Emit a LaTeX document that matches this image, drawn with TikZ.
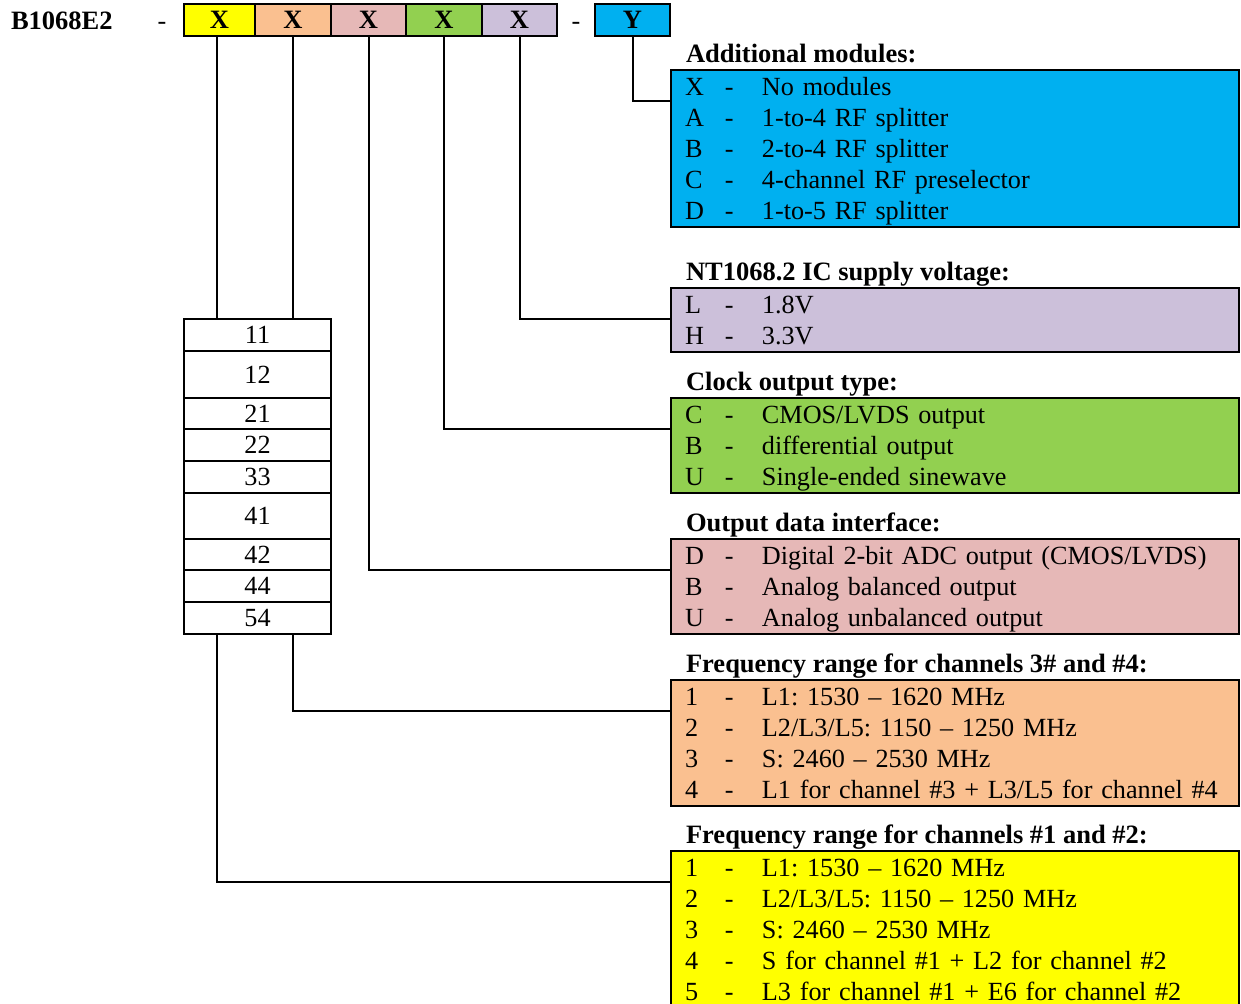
\documentclass[tikz,border=0pt]{standalone}
\usepackage{fontspec}
\setmainfont{Liberation Serif}
\usepackage{array}
\usepackage{tikz}
\usetikzlibrary{positioning}

\definecolor{chanA}{HTML}{FFFF00}
\definecolor{chanB}{HTML}{FAC090}
\definecolor{iface}{HTML}{E6B8B7}
\definecolor{clock}{HTML}{92D050}
\definecolor{supply}{HTML}{CCC0DA}
\definecolor{modules}{HTML}{00B0F0}

\newcommand\diagfont{\fontsize{13.1}{15.5}\selectfont\frenchspacing}
\newcommand\headfont{\fontsize{13.25}{15.5}\selectfont\bfseries}
\newcolumntype{K}{>{\rule[-3.1pt]{0pt}{15.5pt}}p{20pt}}
\newcommand\optlist[1]{\begin{tabular}{@{}K@{}p{18.5pt}@{}l@{}}#1\end{tabular}}
\renewcommand\arraystretch{0}

\begin{document}
\begin{tikzpicture}[x=0.5pt,y=-0.5pt,line width=1pt,font=\diagfont,
    code/.style={draw,minimum height=16pt,inner sep=0pt,outer sep=0pt,font=\headfont},
    optbox/.style={draw,anchor=north west,text width=270pt,align=left,inner xsep=7pt,inner ysep=0.5pt},
    title/.style={anchor=base west,inner sep=0pt,font=\headfont},
    cell/.style={draw,fill=white,minimum width=73.5pt,inner sep=0pt,outer sep=0pt}]
    \useasboundingbox (0,0) rectangle (1241,1003);

    % Part number code
    \node[anchor=base west,inner sep=0pt,font=\headfont] (pn) at (10,29) {B1068E2};
    \node[anchor=base,inner sep=0pt] (d1) at (162,29) {-};
    \node[code,fill=chanA,minimum width=35.5pt,anchor=west] (c1) at (184,20) {X};
    \node[code,fill=chanB,minimum width=38pt,right=0pt of c1] (c2) {X};
    \node[code,fill=iface,minimum width=37.5pt,right=0pt of c2] (c3) {X};
    \node[code,fill=clock,minimum width=38pt,right=0pt of c3] (c4) {X};
    \node[code,fill=supply,minimum width=37.5pt,right=0pt of c4] (c5) {X};
    \node[anchor=base,inner sep=0pt] (d2) at (576,29) {-};
    \node[code,fill=modules,minimum width=37.5pt,anchor=west] (cY) at (595,20) {Y};

    % Option boxes
    \node[optbox,fill=modules] (boxY) at (670,69) {\optlist{
        X & - & No modules\\
        A & - & 1-to-4 RF splitter\\
        B & - & 2-to-4 RF splitter\\
        C & - & 4-channel RF preselector\\
        D & - & 1-to-5 RF splitter}};
    \node[optbox,fill=supply] (boxV) at (670,287) {\optlist{
        L & - & 1.8V\\
        H & - & 3.3V}};
    \node[optbox,fill=clock] (boxC) at (670,397) {\optlist{
        C & - & CMOS/LVDS output\\
        B & - & differential output\\
        U & - & Single-ended sinewave}};
    \node[optbox,fill=iface] (boxI) at (670,538) {\optlist{
        D & - & Digital 2-bit ADC output (CMOS/LVDS)\\
        B & - & Analog balanced output\\
        U & - & Analog unbalanced output}};
    \node[optbox,fill=chanB] (box34) at (670,679) {\optlist{
        1 & - & L1: 1530 -- 1620 MHz\\
        2 & - & L2/L3/L5: 1150 -- 1250 MHz\\
        3 & - & S: 2460 -- 2530 MHz\\
        4 & - & L1 for channel \#3 + L3/L5 for channel \#4}};
    \node[optbox,fill=chanA] (box12) at (670,850) {\optlist{
        1 & - & L1: 1530 -- 1620 MHz\\
        2 & - & L2/L3/L5: 1150 -- 1250 MHz\\
        3 & - & S: 2460 -- 2530 MHz\\
        4 & - & S for channel \#1 + L2 for channel \#2\\
        5 & - & L3 for channel \#1 + E6 for channel \#2}};

    \node[title] (ttlY) at ([shift={(15,-7)}]boxY.north west) {Additional modules:};
    \node[title] (ttlV) at ([shift={(15,-7)}]boxV.north west) {NT1068.2 IC supply voltage:};
    \node[title] (ttlC) at ([shift={(15,-7)}]boxC.north west) {Clock output type:};
    \node[title] (ttlI) at ([shift={(15,-7)}]boxI.north west) {Output data interface:};
    \node[title] (ttl34) at ([shift={(15,-7)}]box34.north west) {Frequency range for channels 3\# and \#4:};
    \node[title] (ttl12) at ([shift={(15,-7)}]box12.north west) {Frequency range for channels \#1 and \#2:};

    % Allowed channel combinations
    \node[cell,minimum height=16pt,anchor=north west] (t11) at (184,319) {11};
    \node[cell,minimum height=23.5pt,below=0pt of t11] (t12) {12};
    \node[cell,minimum height=15.5pt,below=0pt of t12] (t21) {21};
    \node[cell,minimum height=16pt,below=0pt of t21] (t22) {22};
    \node[cell,minimum height=16pt,below=0pt of t22] (t33) {33};
    \node[cell,minimum height=23pt,below=0pt of t33] (t41) {41};
    \node[cell,minimum height=15.5pt,below=0pt of t41] (t42) {42};
    \node[cell,minimum height=16pt,below=0pt of t42] (t44) {44};
    \node[cell,minimum height=16pt,below=0pt of t44] (t54) {54};

    % Connectors
    \draw (cY.south) |- ([yshift=-16pt]boxY.north west);
    \draw (c5.south) |- ([yshift=-16pt]boxV.north west);
    \draw (c4.south) |- ([yshift=-16pt]boxC.north west);
    \draw (c3.south) |- ([yshift=-16pt]boxI.north west);
    \draw (c2.south) -- (c2.south |- t11.north);
    \draw (c2.south |- t54.south) |- ([yshift=-16pt]box34.north west);
    \draw ([xshift=-1.25pt]c1.south) -- ([xshift=-1.25pt]c1.south |- t11.north);
    \draw ([xshift=-1.25pt]c1.south |- t54.south) |- ([yshift=-16pt]box12.north west);
\end{tikzpicture}
\end{document}
